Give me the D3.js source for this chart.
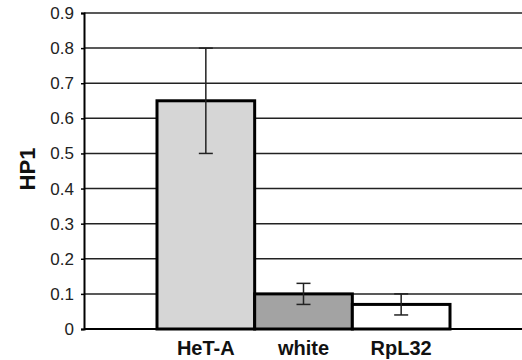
<!DOCTYPE html>
<html>
<head>
<meta charset="utf-8">
<script src="https://cdn.jsdelivr.net/npm/d3@7"></script>
<style>
  body { margin: 0; background: #fff; }
  text { font-family: Arial, "Liberation Sans", sans-serif; }
</style>
</head>
<body>
<div id="chart"></div>
<script>
let categories = ["HeT-A", "white", "RpL32"];
let values = [0.65, 0.10, 0.07];
let errors = [0.15, 0.03, 0.03];
let fills = ["#d6d6d6", "#a3a3a3", "#ffffff"];
let yTicks = [0, 0.1, 0.2, 0.3, 0.4, 0.5, 0.6, 0.7, 0.8, 0.9];

let width = 522, height = 360;

let svg = d3.select("#chart")
.append("svg")
.attr("width", width)
.attr("height", height);

let y = d3.scaleLinear().domain([0, 0.9]).range([329, 13]);
let x = d3.scaleBand().domain(categories).range([157, 450]).padding(0);

// gridlines
svg.append("g")
.selectAll("line")
.data(yTicks.filter(d => d > 0))
.enter().append("line")
.attr("x1", 84)
.attr("x2", width)
.attr("y1", d => y(d))
.attr("y2", d => y(d))
.attr("stroke", "#222")
.attr("stroke-width", 1.5);

// y axis
let yAxis = svg.append("g")
.attr("transform", "translate(84,0)")
.call(d3.axisLeft(y).tickValues(yTicks).tickSize(3).tickPadding(7)
  .tickFormat(d => d === 0 ? "0" : d3.format(".1f")(d)));
yAxis.select(".domain").attr("stroke", "#000").attr("stroke-width", 2);
yAxis.selectAll(".tick line").attr("stroke", "#000").attr("stroke-width", 1.5);
yAxis.selectAll(".tick text").attr("font-size", 17).attr("fill", "#222");

// bars
svg.append("g")
.selectAll("rect")
.data(categories)
.enter().append("rect")
.attr("x", d => x(d))
.attr("y", (d, i) => y(values[i]))
.attr("width", x.bandwidth())
.attr("height", (d, i) => y(0) - y(values[i]))
.attr("fill", (d, i) => fills[i])
.attr("stroke", "#000")
.attr("stroke-width", 3);

// baseline
svg.append("line")
.attr("x1", 84).attr("x2", width)
.attr("y1", y(0)).attr("y2", y(0))
.attr("stroke", "#000").attr("stroke-width", 2);

// error bars
let eb = svg.append("g")
.selectAll("g")
.data(categories)
.enter().append("g")
.attr("stroke", "#222")
.attr("stroke-width", 1.5);

eb.append("line")
.attr("x1", d => x(d) + x.bandwidth() / 2)
.attr("x2", d => x(d) + x.bandwidth() / 2)
.attr("y1", (d, i) => y(values[i] + errors[i]))
.attr("y2", (d, i) => y(values[i] - errors[i]));

[1, -1].forEach(s => {
  eb.append("line")
  .attr("x1", d => x(d) + x.bandwidth() / 2 - 7)
  .attr("x2", d => x(d) + x.bandwidth() / 2 + 7)
  .attr("y1", (d, i) => y(values[i] + s * errors[i]))
  .attr("y2", (d, i) => y(values[i] + s * errors[i]));
});

// category labels
svg.append("g")
.selectAll("text")
.data(categories)
.enter().append("text")
.attr("x", d => x(d) + x.bandwidth() / 2)
.attr("y", 355)
.attr("text-anchor", "middle")
.attr("font-size", 20)
.attr("font-weight", "bold")
.attr("fill", "#111")
.text(d => d);

// y title
svg.append("text")
.attr("transform", "translate(35,169) rotate(-90)")
.attr("text-anchor", "middle")
.attr("font-size", 22)
.attr("font-weight", "bold")
.attr("fill", "#111")
.text("HP1");
</script>
</body>
</html>
